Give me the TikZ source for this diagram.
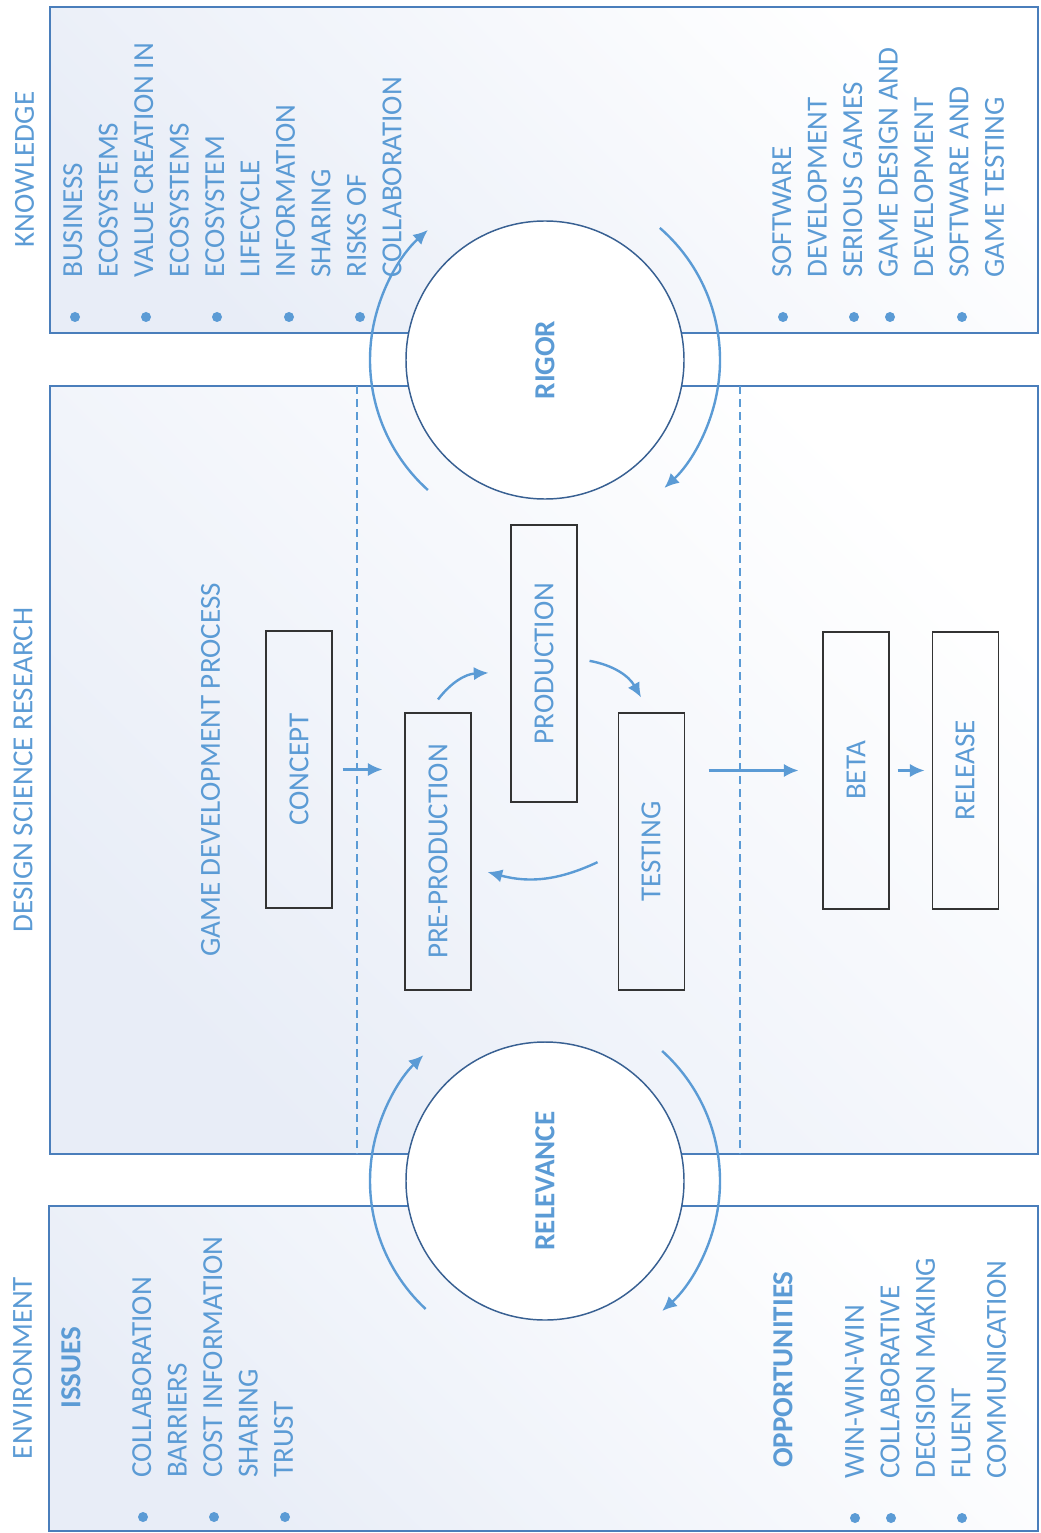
\documentclass[tikz,border=0pt]{standalone}
\usepackage{fontspec}
\setmainfont{Carlito}
\usetikzlibrary{arrows.meta, positioning, calc}
\definecolor{dsrblue}{RGB}{91,155,213}
\definecolor{panelline}{RGB}{74,126,187}
\definecolor{ringline}{RGB}{56,96,146}
\definecolor{paneltint}{RGB}{232,237,247}
\newcommand{\dsrfont}{\fontsize{21.8pt}{26.6pt}\selectfont}
\tikzset{
    panel/.style = {draw=panelline, line width=1.4pt, top color=white, bottom color=paneltint, shading angle=-45}, % the three big boxes
    heading/.style = {text=dsrblue, font=\dsrfont, inner sep=0pt, rotate=90},
    itemlist/.style = {heading, align=left, anchor=north west}, % rotated bullet texts, anchored at the first line
    bullet/.style = {fill=dsrblue},
    stage/.style = {draw=black!80, line width=0.8pt, minimum width=49.5pt, minimum height=207.75pt, inner sep=0pt, text=dsrblue, font=\dsrfont},
    ring/.style = {circle, draw=ringline, line width=1.1pt, fill=white, minimum size=208.5pt, inner sep=0pt, text=dsrblue, font=\dsrfont\bfseries},
    flow/.style = {-{Latex[length=11pt,width=10pt]}, draw=dsrblue, line width=1.8pt},
    ringarrow/.style = {draw=dsrblue, line width=1.8pt, -{Latex[length=11pt,width=10pt]}},
    dashline/.style = {draw=dsrblue, line width=1.6pt, dash pattern=on 6pt off 3.75pt}
}

\begin{document}
\begin{tikzpicture}[x=0.75pt, y=-0.75pt]
  \useasboundingbox (0,0) rectangle (1040,1533);

  % panels
  \shade[panel] (50,7) rectangle (1038,333);
  \shade[panel] (50,386) rectangle (1038,1154);
  \shade[panel] (49,1206) rectangle (1038,1531);
  \draw[dashline] (357,386) -- (357,1154);
  \draw[dashline] (740,386) -- (740,1154);

  % titles
  \node[heading] (knowtitle) at (24.5,169.5) {KNOWLEDGE};
  \node[heading] (dsrtitle) at (23,770) {DESIGN SCIENCE RESEARCH};
  \node[heading] (envtitle) at (22.5,1368) {ENVIRONMENT};
  \node[heading] (gdptitle) at (210.5,770) {GAME DEVELOPMENT PROCESS};

  % knowledge base
  \node[itemlist] (ecolist) at (63,278)
    {BUSINESS\\ECOSYSTEMS\\VALUE CREATION IN\\ECOSYSTEMS\\ECOSYSTEM\\LIFECYCLE\\INFORMATION\\SHARING\\RISKS OF\\COLLABORATION};
  \foreach \bx in {75,146,217,289,360}
    \fill[bullet] (\bx,317) circle[radius=5];
  \node[itemlist] (devlist) at (772,278)
    {SOFTWARE\\DEVELOPMENT\\SERIOUS GAMES\\GAME DESIGN AND\\DEVELOPMENT\\SOFTWARE AND\\GAME TESTING};
  \foreach \bx in {783,854,890,962}
    \fill[bullet] (\bx,317) circle[radius=5];

  % environment
  \node[itemlist, font=\dsrfont\bfseries] (issuetitle) at (61,1409) {ISSUES};
  \node[itemlist] (issuelist) at (132,1478)
    {COLLABORATION\\BARRIERS\\COST INFORMATION\\SHARING\\TRUST};
  \foreach \bx in {143,214,285}
    \fill[bullet] (\bx,1517) circle[radius=5];
  \node[itemlist, font=\dsrfont\bfseries] (opptitle) at (773,1468) {OPPORTUNITIES};
  \node[itemlist] (opplist) at (845,1479)
    {WIN-WIN-WIN\\COLLABORATIVE\\DECISION MAKING\\FLUENT\\COMMUNICATION};
  \foreach \bx in {855,891,962}
    \fill[bullet] (\bx,1518) circle[radius=5];

  % cycles
  \node[ring] (rigor) at (545,360) {\rotatebox{90}{RIGOR}};
  \node[ring] (relevance) at (545,1181) {\rotatebox{90}{RELEVANCE}};
  \draw[ringarrow] ([shift={(132:175)}]rigor.center) arc[start angle=132, end angle=228, radius=175];
  \draw[ringarrow] ([shift={(-49:175)}]rigor.center) arc[start angle=-49, end angle=47, radius=175];
  \draw[ringarrow] ([shift={(133:175)}]relevance.center) arc[start angle=133, end angle=226, radius=175];
  \draw[ringarrow] ([shift={(-48:175)}]relevance.center) arc[start angle=-48, end angle=48, radius=175];

  % game development stages
  \node[stage] (concept) at (299,769.5) {\rotatebox{90}{CONCEPT}};
  \node[stage] (preprod) at (438,851.5) {\rotatebox{90}{PRE-PRODUCTION}};
  \node[stage] (production) at (544,663.5) {\rotatebox{90}{PRODUCTION}};
  \node[stage, right=109.5pt of preprod] (testing) {\rotatebox{90}{TESTING}};
  \node[stage] (beta) at (856,770.5) {\rotatebox{90}{BETA}};
  \node[stage, right=31.5pt of beta] (release) {\rotatebox{90}{RELEASE}};

  \draw[flow, shorten <=7.5pt, shorten >=16.5pt] (concept.east) -- (concept.east -| preprod.west);
  \draw[flow] ([yshift=9.75pt]preprod.north) to[bend left=25] ([xshift=-16.5pt, yshift=-7pt]production.west);
  \draw[flow] ([xshift=9pt, yshift=2pt]production.east) to[bend left=25] ([xshift=-7.5pt, yshift=11.25pt]testing.north);
  \draw[flow] ([xshift=-15pt, yshift=-8pt]testing.west) to[bend left=20] ([xshift=12pt, yshift=-15.4pt]preprod.east);
  \draw[flow, shorten <=18pt, shorten >=18pt] (testing.east |- beta.west) -- (beta.west);
  \draw[flow, shorten <=6pt, shorten >=5.25pt] (beta.east) -- (release.west);
\end{tikzpicture}
\end{document}
